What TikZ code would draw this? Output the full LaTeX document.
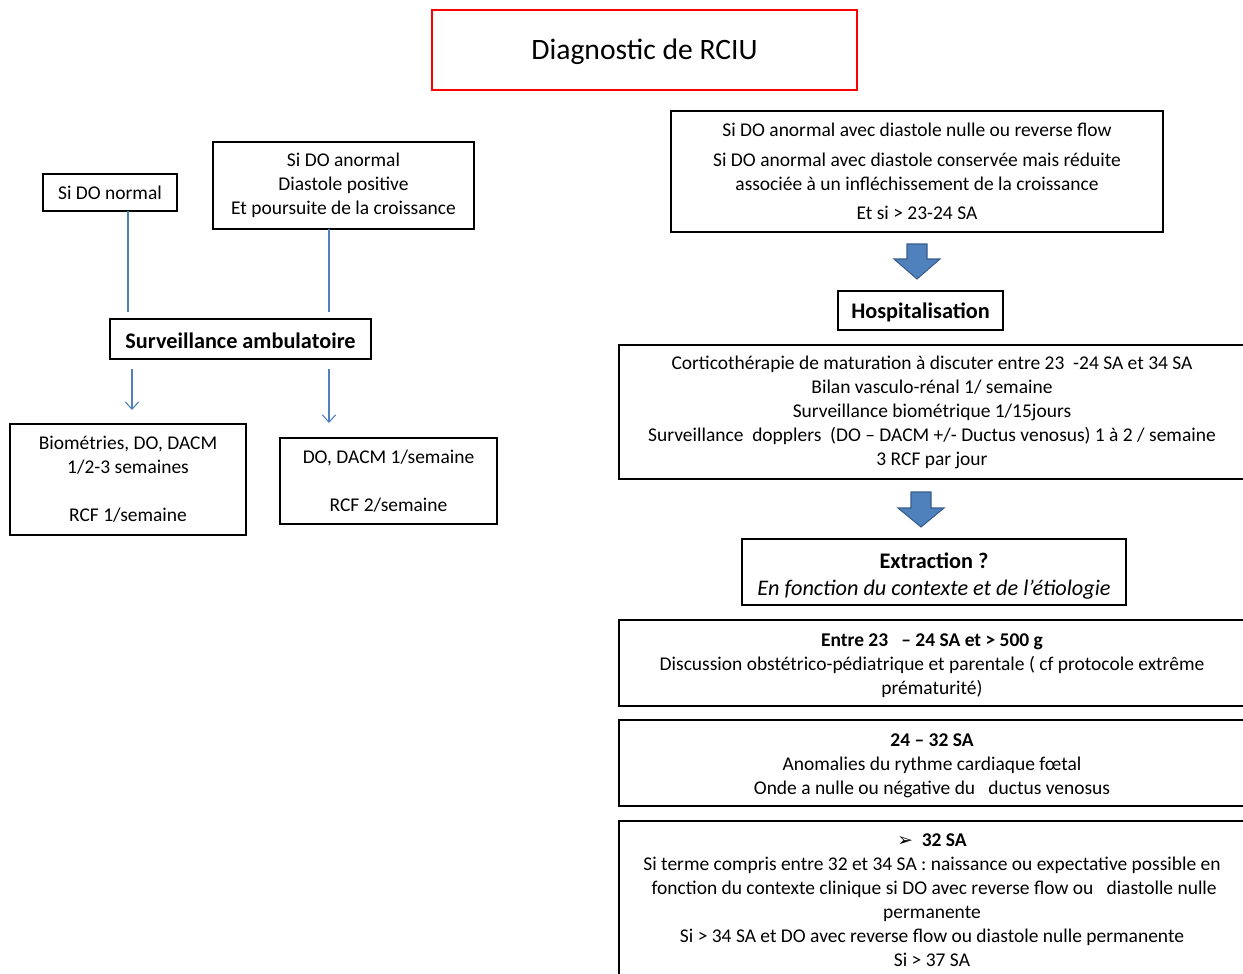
\documentclass[tikz,border=0pt]{standalone}
\usepackage{fontspec}
\setmainfont{Carlito}
\newfontfamily\symfont{DejaVu Sans}
\usetikzlibrary{arrows.meta}
\definecolor{linkblue}{HTML}{4F81BD}
\definecolor{arrowedge}{HTML}{385D8A}
\newcommand\topstrut[1]{\rule{0pt}{#1}}
\tikzset{
  txt/.style={font=\fontsize{14.6}{18}\selectfont, align=center, inner sep=0pt},
  bigtxt/.style={font=\fontsize{16.7}{20.25}\selectfont},
  plainbox/.style={txt, draw=black, line width=0.8pt},
  thickbox/.style={txt, draw=black, line width=1.9pt},
  titlebox/.style={draw=red, line width=2.2pt, inner sep=0pt, font=\fontsize{22.2}{26}\selectfont},
  thinlink/.style={draw=linkblue, line width=0.8pt},
  thinarrow/.style={thinlink, -{Straight Barb[length=5.5pt,width=10pt,line width=0.8pt]}},
  blockarrow/.style={fill=linkblue, draw=arrowedge, line width=0.8pt, line join=miter}
}
\begin{document}
\begin{tikzpicture}[x=0.75pt,y=-0.75pt]
\useasboundingbox (0,0) rectangle (1243,974);
\fill[white] (0,0) rectangle (1243,974);
\clip (0,0) rectangle (1243,974);

% title
\node[titlebox, minimum width=318.75pt, minimum height=60pt, text height=16pt, text depth=1.7pt] (title) at (644.5,50) {Diagnostic de RCIU};

% left branch
\node[plainbox, minimum width=100.5pt, minimum height=27.75pt] (sinormal) at (110,192.5) {Si DO normal};
\node[plainbox, minimum width=195.75pt, minimum height=65.25pt] (sianormal) at (343.5,185.5) {Si DO anormal\\ Diastole positive\\ Et poursuite de la croissance};
\node[thickbox, bigtxt, minimum width=195.75pt, minimum height=30pt, text height=14.7pt, text depth=0pt] (surv) at (240.5,339) {\bfseries Surveillance ambulatoire};
\node[plainbox, minimum width=177pt, minimum height=83.25pt] (bio) at (128,479.5) {Biométries, DO, DACM\\ 1/2-3 semaines\\[18pt] RCF 1/semaine};
\node[plainbox, minimum width=162.75pt, minimum height=64.5pt] (dodacm) at (388.5,481) {DO, DACM 1/semaine\\[18pt] RCF 2/semaine};

\coordinate (l1top) at (128,211);
\coordinate (l1bot) at (128,312);
\coordinate (l2top) at (329,229);
\coordinate (l2bot) at (329,312);
\draw[thinlink] (l1top) -- (l1bot);
\draw[thinlink] (l2top) -- (l2bot);
\coordinate (a1top) at (132,369);
\coordinate (a1bot) at (132,410);
\coordinate (a2top) at (329,369);
\coordinate (a2bot) at (329,423);
\draw[thinarrow] (a1top) -- (a1bot);
\draw[thinarrow] (a2top) -- (a2bot);

% right branch
\node[plainbox, minimum width=369pt, minimum height=90.75pt] (cond) at (917,171.5) {Si DO anormal avec diastole nulle ou reverse flow\\[4.5pt] Si DO anormal avec diastole conservée mais réduite\\ associée à un infléchissement de la croissance\\[4pt] Et si > 23-24 SA};
\node[thickbox, bigtxt, minimum width=123.75pt, minimum height=29.25pt, text height=13pt, text depth=1pt] (hosp) at (920.5,310.5) {\bfseries Hospitalisation};
\node[plainbox, minimum width=469.5pt, minimum height=100.5pt] (soins) at (932,412) {Corticothérapie de maturation à discuter entre 23\ \ -24 SA et 34 SA\\ Bilan vasculo-rénal 1/ semaine\\ Surveillance biométrique 1/15jours\\ Surveillance\ \ dopplers\ \ (DO -- DACM +/- Ductus venosus) 1 à 2 / semaine\\ 3 RCF par jour};
\node[thickbox, bigtxt, minimum width=288pt, minimum height=49.5pt] (extr) at (934,572) {\topstrut{18.5pt}\bfseries Extraction ?\\ \itshape En fonction du contexte et de l’étiologie};
\node[plainbox, minimum width=469.5pt, minimum height=64.5pt] (b3) at (932,663) {\topstrut{13.5pt}\bfseries Entre 23\ \ \ -- 24 SA et > 500 g\\ Discussion obstétrico-pédiatrique et parentale (\ cf protocole extrême\\ prématurité)};
\node[plainbox, minimum width=469.5pt, minimum height=64.5pt] (b4) at (932,763) {\topstrut{14pt}\bfseries 24 -- 32 SA\\ Anomalies du rythme cardiaque fœtal\\ Onde a nulle ou négative du\ \ \ ductus venosus};
\node[plainbox, minimum width=469.5pt, minimum height=119.25pt] (b5) at (932,900.5) {{\symfont\fontsize{14}{18}\selectfont ➢}\ \ \textbf{32 SA}\\ Si terme compris entre 32 et 34 SA : naissance ou expectative possible en\\ \ fonction du contexte clinique si DO avec reverse flow ou\ \ \ diastolle nulle\\ permanente\\ Si > 34 SA et DO avec reverse flow ou diastole nulle permanente\\ Si > 37 SA};

% block arrows
\coordinate (ba1) at (917,244);
\coordinate (ba2) at (921,492);
\path[blockarrow] (ba1) ++(-10,0) -- ++(20,0) -- ++(0,15) -- ++(13,0) -- ++(-23,20) -- ++(-23,-20) -- ++(13,0) -- cycle;
\path[blockarrow] (ba2) ++(-10,0) -- ++(20,0) -- ++(0,16) -- ++(13,0) -- ++(-23,19) -- ++(-23,-19) -- ++(13,0) -- cycle;
\end{tikzpicture}
\end{document}
